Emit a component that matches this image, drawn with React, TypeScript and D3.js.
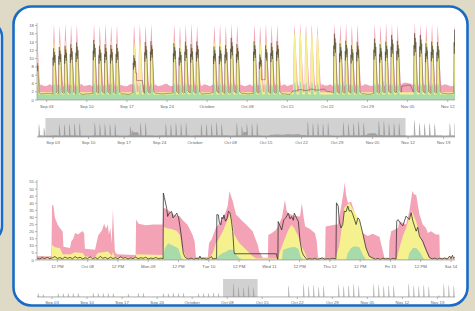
import React from "react";
import * as d3 from "d3";

const W = 475;
const H = 311;

// ---------- Overview series (daily, index 0 = 2017-08-31) ----------
// peak of the measured line on each day (0 = no working-day peak)
const linePeaks = [
  13, 9.5, 0, 0,
  12.5, 12.8, 13.1, 13.5, 13.9, 0, 0,
  14.5, 13.1, 13.5, 13.3, 13.5, 0, 0,
  10.8, 0, 14.0, 14.2, 0, 0, 0,
  13.7, 12.5, 14.1, 13.5, 14.1, 0, 0,
  12.9, 12.9, 13.3, 15.0, 13.5, 0, 0,
  14.2, 11.0, 13.2, 13.8, 14.2, 0, 0,
  0, 0, 0, 0, 0, 0, 0,
  16.0, 13.7, 14.3, 13.2, 14.1, 0, 0,
  14.8, 13.5, 14.1, 15.7, 14.3, 0, 0,
  16.1, 15.7, 13.7, 14.1, 14.0, 0, 0,
  17.0, 14.0, 13.5, 14.0, 13.0, 0, 0,
  14.0, 13.5,
];
const lineBase = [
  1.6, 1.5, 1.5, 1.6,
  1.5, 1.6, 1.7, 1.6, 1.5, 1.4, 1.5,
  1.6, 1.7, 1.6, 1.5, 1.6, 1.5, 1.4,
  1.7, 1.8, 1.6, 1.7, 1.6, 1.5, 1.6,
  1.7, 1.6, 1.8, 1.7, 1.6, 1.5, 1.6,
  1.8, 1.7, 1.6, 1.8, 1.7, 1.6, 1.5,
  1.6, 1.8, 1.7, 1.6, 1.7, 1.5, 1.4,
  2.2, 2.5, 2.3, 2.6, 2.4, 2.6, 2.0,
  1.7, 1.6, 1.8, 1.7, 1.6, 1.5, 1.4,
  1.6, 1.7, 1.8, 1.7, 1.9, 3.4, 3.6,
  1.9, 1.8, 1.7, 1.6, 1.7, 1.6, 1.5,
  1.6, 1.7, 1.6, 1.8, 1.7, 1.6, 1.5,
  1.6, 1.7,
];
// interpolated gaps in the measured line: [day, hour] -> [day, hour], value
const lineGaps = [
  { from: [18, 13], to: [18, 17], v: 6.5 },
  { from: [18, 17.5], to: [19, 17], v: 4.7 },
  { from: [40, 12], to: [41, 3], v: 4.9 },
];
const pinkPeaks = [
  18.0, 18.2, 0, 0,
  18.4, 18.0, 18.5, 18.2, 18.3, 0, 0,
  18.5, 18.1, 18.4, 18.0, 18.2, 0, 0,
  18.3, 18.5, 18.2, 18.4, 0, 0, 0,
  18.4, 18.0, 18.3, 18.5, 18.1, 0, 0,
  18.2, 18.4, 18.0, 18.5, 18.3, 0, 0,
  18.5, 18.2, 18.4, 18.1, 18.3, 0, 0,
  18.4, 18.6, 18.3, 18.5, 18.2, 0, 0,
  18.6, 18.3, 18.5, 18.2, 18.4, 0, 0,
  18.5, 18.2, 18.6, 18.4, 18.3, 0, 0,
  18.6, 18.5, 18.3, 18.4, 18.2, 0, 0,
  18.5, 18.3, 18.4, 18.2, 18.3, 0, 0,
  18.4, 18.3,
];
const yellowPeaks = [
  14.0, 13.0, 0, 0,
  14.5, 14.2, 14.6, 14.3, 14.5, 0, 0,
  14.6, 14.2, 14.4, 14.5, 14.3, 0, 0,
  14.0, 14.6, 14.4, 14.5, 0, 0, 0,
  14.5, 14.3, 14.6, 14.2, 14.4, 0, 0,
  14.3, 14.5, 14.2, 14.7, 14.4, 0, 0,
  14.6, 14.3, 14.5, 14.4, 14.6, 0, 0,
  16.5, 16.8, 16.4, 16.7, 16.3, 0, 0,
  15.0, 14.6, 14.8, 14.5, 14.7, 0, 0,
  14.8, 14.5, 14.7, 15.0, 14.6, 0, 0,
  15.2, 15.0, 14.6, 14.8, 14.5, 0, 0,
  15.0, 14.6, 14.5, 14.7, 14.4, 0, 0,
  14.6, 14.5,
];
const greenPeaks = [
  4.0, 3.8, 0, 0,
  4.1, 3.9, 4.2, 4.0, 3.8, 0, 0,
  4.2, 4.0, 3.9, 4.1, 3.8, 0, 0,
  4.0, 4.2, 3.9, 4.1, 0, 0, 0,
  4.1, 3.9, 4.2, 4.0, 3.8, 0, 0,
  4.0, 4.1, 3.9, 4.2, 4.0, 0, 0,
  4.2, 4.0, 4.1, 3.9, 4.0, 0, 0,
  4.5, 4.6, 4.4, 4.5, 4.3, 0, 0,
  4.2, 4.0, 4.1, 3.9, 4.0, 0, 0,
  4.1, 3.9, 4.2, 4.0, 4.1, 0, 0,
  4.2, 4.1, 3.9, 4.0, 4.1, 0, 0,
  4.2, 4.0, 4.1, 3.9, 4.0, 0, 0,
  4.1, 4.0,
];
const pinkBaseAM = [
  3.6, 3.3, 3.8, 3.4,
  3.5, 3.8, 3.3, 3.7, 3.4, 3.9, 3.5,
  3.3, 3.7, 3.5, 3.8, 3.4, 3.6, 3.3,
  3.8, 3.4, 3.6, 3.3, 3.7, 3.5, 3.9,
  3.4, 3.7, 3.3, 3.6, 3.8, 3.4, 3.6,
  3.7, 3.3, 3.8, 3.5, 3.4, 3.7, 3.5,
  3.3, 3.6, 3.8, 3.4, 3.7, 3.5, 3.3,
  3.8, 3.5, 3.7, 3.4, 3.6, 3.9, 3.5,
  3.4, 3.7, 3.3, 3.6, 3.8, 3.4, 3.7,
  3.5, 3.8, 3.4, 3.7, 3.3, 3.9, 4.1,
  3.6, 3.4, 3.7, 3.3, 3.8, 3.5, 3.6,
  3.4, 3.7, 3.5, 3.8, 3.4, 3.6, 3.5,
  3.7, 3.4,
];
const pinkBasePM = [
  3.2, 3.7, 3.4, 3.8,
  3.6, 3.3, 3.7, 3.4, 3.8, 3.4, 3.7,
  3.7, 3.4, 3.8, 3.3, 3.7, 3.4, 3.8,
  3.3, 3.7, 3.4, 3.8, 3.3, 3.8, 3.4,
  3.8, 3.3, 3.7, 3.4, 3.5, 3.8, 3.3,
  3.4, 3.7, 3.4, 3.8, 3.6, 3.3, 3.8,
  3.7, 3.4, 3.5, 3.8, 3.4, 3.8, 3.6,
  3.4, 3.8, 3.4, 3.7, 3.3, 3.5, 3.8,
  3.7, 3.4, 3.8, 3.3, 3.5, 3.8, 3.4,
  3.8, 3.4, 3.7, 3.4, 3.8, 4.2, 3.9,
  3.4, 3.7, 3.4, 3.8, 3.5, 3.8, 3.3,
  3.7, 3.4, 3.8, 3.4, 3.7, 3.4, 3.8,
  3.4, 3.7,
];
const yellowBase = 1.9;
const greenBase = 1.3;

// Second overview (lower brush): daily peaks of the hourly series, index 0 = 2017-08-31
const ctx2Peaks = [
  13, 9.5, 0, 0,
  12.5, 12.8, 13.1, 13.5, 13.9, 0, 0,
  14.5, 13.1, 13.5, 13.3, 13.5, 0, 0,
  10.8, 0, 14.0, 14.2, 0, 0, 0,
  13.7, 12.5, 14.1, 13.5, 14.1, 0, 0,
  12.9, 12.9, 13.3, 15.0, 13.5, 0, 0,
  47, 34, 33, 40, 33, 0, 0,
  0, 0, 0, 0, 40, 0, 0,
  45, 38, 42, 36, 40, 0, 0,
  44, 38, 41, 46, 40, 0, 0,
  46, 44, 38, 41, 40, 0, 0,
  47, 40, 38, 42, 37, 0, 6,
  46, 42, 40,
];

// ---------- Detail series (hours since 2017-10-07 00:00) ----------
const detailLineWeekend = [
  1.2, 0.8, 1.6, 1.0, 1.9, 0.9, 1.5, 2.4, 1.1, 1.7, 0.8, 2.1, 1.2, 1.8, 0.9, 2.4, 1.3, 1.9, 0.8, 1.6,
  1.1, 2.2, 1.0, 1.7, 0.9, 2.5, 1.2, 1.8, 0.8, 2.0, 1.1, 1.6, 0.9, 2.3, 1.2, 1.7, 0.8, 1.5, 1.0, 2.0,
  0.9, 1.6, 1.2, 1.9, 0.8, 1.4, 1.0, 1.8, 0.9, 1.3,
]; // hourly from hour 4
const detailLineWeek: [number, number][] = [
  [53.9, 1.0], [54.0, 47.2], [54.4, 44], [55.3, 36.6], [55.7, 30.7], [56.3, 33], [57.3, 34.2], [57.8, 29.7],
  [58.5, 31], [59.3, 33], [60.0, 30], [60.6, 23.6], [61.3, 14], [61.9, 4.7], [62.6, 2], [63.2, 1.2],
  [64, 0.7], [65, 1.3], [66, 0.6], [67, 1.1], [68, 0.7], [68.5, 2.8], [69, 0.8], [70, 1.2], [71, 0.6],
  [72, 1.0], [73.1, 2.4], [73.5, 0.8], [74.5, 1.0], [75.1, 1.0], [75.2, 32], [75.8, 31.8], [76.2, 26.2],
  [76.8, 24.8], [77.2, 30.2], [77.6, 29], [78.0, 31.8], [78.6, 27.4], [79.2, 29], [79.8, 34.4], [80.4, 33.3],
  [81.0, 27.4], [81.5, 20], [82.0, 6.1], [82.2, 4.4], [98.8, 4.4], [99.3, 0.5], [99.4, 0.6], [99.5, 27.1],
  [100.9, 21.2], [101.7, 28.3], [102.5, 29.7], [103.5, 33], [104.2, 29], [104.8, 30.6], [105.5, 28],
  [105.9, 33], [106.8, 29.5], [107.5, 27.1], [108.2, 13], [108.9, 6], [109.5, 3.5], [110.8, 0.5],
  [112, 1.0], [113, 0.6], [114, 1.2], [115, 0.5], [116, 0.9], [117, 1.4], [118, 0.6], [119, 1.0],
  [120, 0.7], [121, 1.2], [122.4, 0.8], [122.6, 40.3], [123.3, 38], [123.7, 27.4], [124.4, 22.6],
  [125.1, 25], [125.7, 34.4], [126.4, 34], [127.1, 38], [127.7, 34.4], [128.4, 35], [129.1, 32],
  [130.4, 25], [131.1, 29.7], [131.7, 28.5], [133.0, 19], [134.3, 8.5], [135.6, 2.6], [137.0, 1.4],
  [138, 0.6], [139, 1.1], [140, 0.5], [141, 1.3], [142, 0.7], [143, 1.0], [144, 0.6], [145, 1.2],
  [146.2, 0.6], [146.5, 27.4], [147.0, 28.5], [148.3, 25], [148.9, 24], [150.2, 30.9], [151.5, 28.5],
  [152.2, 33.3], [152.9, 27.4], [154.2, 20.3], [154.8, 23], [155.5, 16.8], [156.8, 13.2], [158.1, 7.3],
  [159.4, 1.9], [160.5, 0.8], [161.5, 1.3], [162.5, 0.6], [163.5, 1.2], [164.5, 0.7], [165.5, 1.4],
  [166.5, 0.6], [167.5, 2.8], [168, 1.0], [168.6, 3.3], [169, 1.2], [169.5, 2],
];
const detailPink: [number, number][] = [
  [3.9, 2.6], [6, 2.9], [8, 2.5], [9.6, 2.8], [9.9, 39], [10.4, 38.5], [11, 30], [12.1, 24.8], [13, 22.6],
  [13.7, 21], [14.1, 20], [14.4, 9.4], [17, 8.5], [17.5, 13], [18.3, 15], [19, 19], [20.2, 18], [20.9, 19],
  [22.1, 20.4], [22.6, 18.5], [22.9, 8], [26.9, 7.2], [27.5, 12], [28.2, 17.5], [29.7, 21], [30.5, 25.5],
  [31.3, 22], [32, 25], [32.4, 18], [33, 22.5], [33.5, 12], [34, 35.4], [34.4, 20], [34.8, 6], [35.6, 4],
  [43, 3.5], [43.2, 28.5], [44.2, 25.5], [47, 24.5], [50, 25], [53.7, 25], [54, 37], [56, 35], [58, 32],
  [60.6, 30.6], [61.9, 27.6], [63.5, 25], [65.5, 18], [66.4, 13], [66.9, 2], [71.6, 2], [72.1, 12],
  [73.1, 14.4], [74.8, 22.6], [76.8, 27.4], [78.5, 33], [79.5, 38], [80.2, 48.6], [81, 44], [81.5, 41.5],
  [82.8, 32], [85.4, 27.4], [86.8, 25], [89.4, 20.3], [90.1, 16.8], [91.4, 10.8], [92, 6], [93.4, 1.5],
  [95.4, 1.5], [95.6, 17.7], [97, 19], [98.6, 21.2], [99.5, 24], [101, 30], [102.2, 42.5], [102.8, 35],
  [103.5, 33], [106, 31], [108.2, 30.6], [108.9, 40.1], [109.6, 30], [110.2, 23.6], [112, 22], [114.1, 18.9],
  [114.8, 13], [115.3, 1.5], [118.1, 1.5], [118.3, 23.6], [121.8, 24.8], [123.1, 25], [124.4, 36.8],
  [125.4, 48], [125.9, 54.7], [126.4, 46.2], [127.1, 40.3], [128.4, 41], [129.7, 34.4], [131.1, 22.6],
  [132.4, 22], [133, 19], [135, 17], [137, 18.5], [139, 16.8], [139.6, 16.5], [141, 6.1], [141.6, 1.5],
  [143.4, 1.5], [143.6, 13.2], [144.3, 20.3], [147, 22.6], [147.6, 27.4], [150.2, 25], [151.5, 34.4],
  [152.7, 48.6], [153.4, 46.2], [154.2, 46], [155.5, 32], [156.8, 25], [158.1, 22.6], [158.8, 19],
  [160.1, 20.3], [162, 18], [163.4, 18], [163.6, 1.5], [169.5, 1.5],
];
const detailYellow: [number, number][] = [
  [3.9, 1.3], [9.7, 1.3], [9.9, 10.8], [11, 9], [13, 8.5], [14.1, 4], [17, 3.8], [19, 5.5], [22, 5], [23, 2.5],
  [26.9, 2], [28, 5], [32, 6], [33.6, 3], [34, 5.9], [34.8, 2], [43, 1.5], [43.2, 4], [53.7, 3.5], [54, 23.6],
  [55.3, 22.4], [57, 22], [59.3, 20.5], [60.6, 17.7], [61.3, 9.4], [62.6, 3.5], [63.2, 1.2], [72, 1.2],
  [73.6, 5], [74.8, 12], [76, 15], [77.5, 20], [80, 30.9], [80.4, 34.4], [81.5, 25], [82.1, 17.9], [84.1, 12],
  [86.8, 7.3], [89.4, 2.6], [90.7, 1], [99.3, 1], [100.9, 9.4], [103.5, 21.2], [104.8, 24.8], [105.9, 22.4],
  [107.5, 16.5], [108.9, 9.4], [110.2, 4.7], [111, 1], [122, 1], [122.5, 3], [123.7, 10], [125.1, 27.4],
  [125.7, 36.8], [127.7, 40.3], [129.1, 36], [130.4, 32], [131.7, 27.4], [133, 17.9], [134.3, 8.5],
  [135.6, 2.6], [137, 1], [146.5, 1], [147, 5], [148.9, 16.8], [150.2, 22.6], [151.5, 29.7], [152.5, 34.4],
  [154.2, 27.4], [155.5, 17.9], [156.8, 12], [158.1, 6.1], [159.4, 1], [169.5, 1],
];
const detailGreen: [number, number][] = [
  [3.9, 0.5], [53.9, 0.5], [54.5, 8], [55.9, 11.8], [57.3, 10.6], [59.9, 8.3], [61.3, 1], [62, 0.3],
  [75, 0.3], [76, 3], [77.5, 5], [78.4, 5.5], [80, 7.3], [81.5, 7.3], [82.8, 4], [84.1, 1.4], [85.4, 0.3],
  [101, 0.3], [101.4, 7], [103.5, 8.5], [105.9, 9.4], [107.5, 8], [108.5, 2], [109.5, 0.3],
  [126.4, 0.3], [127.1, 5], [128.4, 8.5], [129.7, 9.7], [131.7, 9], [133, 3.8], [134.3, 0.3],
  [150.9, 0.3], [151.5, 5], [152.9, 8.5], [154.2, 8.5], [155.5, 6], [156.8, 2], [157.5, 0.3], [169.5, 0.3],
];

// Intra-day shapes (hour, fraction of the day's peak above base)
const lineShape: [number, number][] = [
  [1.5, 0], [2.5, 0.8], [3.5, 0.62], [5, 1], [6.5, 0.74], [8, 0.92], [9.5, 0.68], [11, 0.85],
  [12.5, 0.58], [14, 0.42], [15, 0.18], [16, 0.03],
];
// narrower shape for the small overview strips
const ctxShape: [number, number][] = [
  [3, 0], [4, 0.85], [5.5, 1], [7, 0.8], [8.5, 0.6], [10, 0.2], [11, 0],
];
const pinkShape: [number, number][] = [
  [0.5, 0], [1.5, 0.45], [3, 0.66], [5, 0.9], [6.5, 1], [8.5, 0.82], [10.5, 0.66], [13, 0.48], [16, 0.26], [19, 0.06], [21, 0],
];
const yellowShape: [number, number][] = [
  [1, 0], [2.5, 0.6], [4, 0.88], [6, 1], [9, 0.92], [12, 0.72], [14, 0.42], [16, 0.1], [17, 0],
];
const greenShape: [number, number][] = [
  [2, 0], [4, 0.7], [6.5, 1], [10, 0.8], [13, 0.35], [15, 0],
];

// Domains
const focus1Domain = [new Date(2017, 8, 1, 7, 20), new Date(2017, 10, 13, 6, 30)];
const ctx1Domain = [new Date(2017, 7, 30, 20, 0), new Date(2017, 10, 21, 6, 0)];
const brush1 = [new Date(2017, 8, 1, 12, 0), new Date(2017, 10, 11, 12, 0)];
const detailDomain = [new Date(2017, 9, 7, 3, 55), new Date(2017, 9, 14, 1, 35)];
const ctx2Domain = [new Date(2017, 7, 31, 0, 0), new Date(2017, 10, 22, 12, 0)];

type Pt = { t: Date; v: number };
const HOUR = 3600000;
function dayDate(i: number, h = 0) {
  const d = new Date(2017, 7, 31 + i);
  return new Date(d.getTime() + h * HOUR);
}
function buildDaily(peaks: number[], baseA: number[], baseB: number[], shape: [number, number][]): Pt[] {
  const pts: Pt[] = [];
  peaks.forEach((p, i) => {
    const b = baseA[i];
    pts.push({ t: dayDate(i, 0), v: b });
    if (p > 0) {
      shape.forEach(([h, f]) => pts.push({ t: dayDate(i, h), v: b + f * (p - b) }));
      pts.push({ t: dayDate(i, 22), v: baseB[i] });
    } else {
      pts.push({ t: dayDate(i, 12), v: baseB[i] });
    }
  });
  return pts;
}
function applyGaps(pts: Pt[]): Pt[] {
  let out = pts.slice();
  lineGaps.forEach((g) => {
    const a = dayDate(g.from[0], g.from[1]);
    const b = dayDate(g.to[0], g.to[1]);
    out = out.filter((p) => p.t < a || p.t > b);
    out.push({ t: a, v: g.v }, { t: b, v: g.v });
  });
  return out.sort((p, q) => +p.t - +q.t);
}
const detailT0 = new Date(2017, 9, 7);
const fromHours = (arr: [number, number][]): Pt[] =>
  arr.map(([h, v]) => ({ t: new Date(detailT0.getTime() + h * HOUR), v }));

const FONT = "Liberation Sans, Arial, sans-serif";
const AX = "#8a8a8a";
const TXT = "#666";
const PINK = "#f3a3b5";
const YELLOW = "#f6f18f";
const GREEN = "#a8dba9";

function XAxis({ scale, y, labelDy }: { scale: d3.ScaleTime<number, number>; y: number; labelDy: number }) {
  const [r0, r1] = scale.range();
  const ticks = scale.ticks(10);
  const fmt = scale.tickFormat();
  return (
    <g>
      <line x1={r0} x2={r1} y1={y} y2={y} stroke={AX} strokeWidth={0.6} />
      {ticks.map((t, i) => (
        <g key={i}>
          <line x1={scale(t)} x2={scale(t)} y1={y} y2={y + 2} stroke={AX} strokeWidth={0.6} />
          <text x={scale(t)} y={y + labelDy} fontSize={4.3} fill={TXT} textAnchor="middle" fontFamily={FONT}>
            {fmt(t)}
          </text>
        </g>
      ))}
    </g>
  );
}
function YAxis({ scale, x }: { scale: d3.ScaleLinear<number, number>; x: number }) {
  const [r0, r1] = scale.range();
  const ticks = scale.ticks(10);
  return (
    <g>
      <line x1={x} x2={x} y1={r0} y2={r1} stroke={AX} strokeWidth={0.6} />
      {ticks.map((t, i) => (
        <g key={i}>
          <line x1={x - 2} x2={x} y1={scale(t)} y2={scale(t)} stroke={AX} strokeWidth={0.6} />
          <text x={x - 3} y={scale(t) + 1.5} fontSize={4.3} fill={TXT} textAnchor="end" fontFamily={FONT}>
            {t}
          </text>
        </g>
      ))}
    </g>
  );
}

export default function App() {
  const L = 37, R = 455;
  // overview series
  const linePts = applyGaps(buildDaily(linePeaks, lineBase, lineBase, lineShape));
  const ctx1Pts = applyGaps(buildDaily(linePeaks, lineBase, lineBase, ctxShape));
  const pinkPts = buildDaily(pinkPeaks, pinkBaseAM, pinkBasePM, pinkShape);
  const yb = linePeaks.map(() => yellowBase);
  const gb = linePeaks.map(() => greenBase);
  const yellowPts = buildDaily(yellowPeaks, yb, yb, yellowShape);
  const greenPts = buildDaily(greenPeaks, gb, gb, greenShape);
  const ctx2Base = ctx2Peaks.map(() => 1);
  const ctx2Pts = buildDaily(ctx2Peaks, ctx2Base, ctx2Base, ctxShape);

  // focus 1
  const x1 = d3.scaleTime().domain(focus1Domain).range([L, R]);
  const y1 = d3.scaleLinear().domain([0, 18.6]).range([100, 23]);
  const area1 = (pts: Pt[]) =>
    d3.area<Pt>().x((d) => x1(d.t)).y0(y1(0)).y1((d) => y1(d.v))(pts) || "";
  const line1 = d3.line<Pt>().x((d) => x1(d.t)).y((d) => y1(d.v))(linePts) || "";

  // context 1
  const cx1 = d3.scaleTime().domain(ctx1Domain).range([L, R]);
  const cy1 = d3.scaleLinear().domain([0, 18.6]).range([137, 118]);
  const carea1 = d3.area<Pt>().x((d) => cx1(d.t)).y0(cy1(0)).y1((d) => cy1(d.v))(ctx1Pts) || "";

  // detail
  const x2 = d3.scaleTime().domain(detailDomain).range([L, R]);
  const y2 = d3.scaleLinear().domain([0, 56.4]).range([260, 180]);
  const area2 = (pts: Pt[]) =>
    d3.area<Pt>().x((d) => x2(d.t)).y0(y2(0)).y1((d) => y2(d.v))(pts) || "";
  const detailLinePts: Pt[] = [
    ...fromHours(detailLineWeekend.map((v, i) => [4 + i, v] as [number, number])),
    ...fromHours(detailLineWeek),
  ];
  const line2 = d3.line<Pt>().x((d) => x2(d.t)).y((d) => y2(d.v))(detailLinePts) || "";

  // context 2
  const cx2 = d3.scaleTime().domain(ctx2Domain).range([L, R]);
  const cy2 = d3.scaleLinear().domain([0, 60]).range([297, 279]);
  const carea2 = d3.area<Pt>().x((d) => cx2(d.t)).y0(cy2(0)).y1((d) => cy2(d.v))(ctx2Pts) || "";

  return (
    <svg width={W} height={H} style={{ position: "absolute", left: 0, top: 0, display: "block" }}>
      <defs>
        <clipPath id="c1"><rect x={L} y={18} width={R - L} height={82} /></clipPath>
        <clipPath id="cc1"><rect x={L} y={117} width={R - L} height={20} /></clipPath>
        <clipPath id="c2"><rect x={L} y={176} width={R - L} height={84} /></clipPath>
        <clipPath id="cc2"><rect x={L} y={278} width={R - L} height={19} /></clipPath>
      </defs>
      <rect x={0} y={0} width={W} height={H} fill="#dedac6" />
      {/* neighbouring panel edge */}
      <path d="M -20 21 H -14 A 16 16 0 0 1 2 37 V 226 A 16 16 0 0 1 -14 242 H -20" fill="#ffffff" stroke="#1a6bc6" strokeWidth={2.5} />
      {/* main panel */}
      <rect x={13.5} y={6.5} width={454} height={299} rx={18} ry={18} fill="#ffffff" stroke="#1a6bc6" strokeWidth={2.6} />

      {/* focus 1 */}
      <g clipPath="url(#c1)">
        <path d={area1(pinkPts)} fill={PINK} />
        <path d={area1(yellowPts)} fill={YELLOW} />
        <path d={area1(greenPts)} fill={GREEN} />
        <path d={line1} fill="none" stroke="#2b2b1e" strokeWidth={0.6} strokeOpacity={0.65} />
      </g>
      <YAxis scale={y1} x={L} />
      <XAxis scale={x1} y={100} labelDy={8} />

      {/* context 1 */}
      <g clipPath="url(#cc1)">
        <path d={carea1} fill="#adadad" />
      </g>
      <rect x={cx1(brush1[0])} y={118} width={cx1(brush1[1]) - cx1(brush1[0])} height={19} fill="#8c8c8c" fillOpacity={0.4} />
      <XAxis scale={cx1} y={137} labelDy={6.5} />

      {/* detail */}
      <g clipPath="url(#c2)">
        <path d={area2(fromHours(detailPink))} fill={PINK} />
        <path d={area2(fromHours(detailYellow))} fill={YELLOW} />
        <path d={area2(fromHours(detailGreen))} fill={GREEN} />
        <path d={line2} fill="none" stroke="#2a2a2a" strokeWidth={0.75} />
      </g>
      <YAxis scale={y2} x={L} />
      <XAxis scale={x2} y={260} labelDy={8} />

      {/* context 2 */}
      <g clipPath="url(#cc2)">
        <path d={carea2} fill="#bdbdbd" />
      </g>
      <rect x={cx2(detailDomain[0])} y={279} width={cx2(detailDomain[1]) - cx2(detailDomain[0])} height={18} fill="#8c8c8c" fillOpacity={0.4} />
      <XAxis scale={cx2} y={297} labelDy={6.5} />
    </svg>
  );
}
